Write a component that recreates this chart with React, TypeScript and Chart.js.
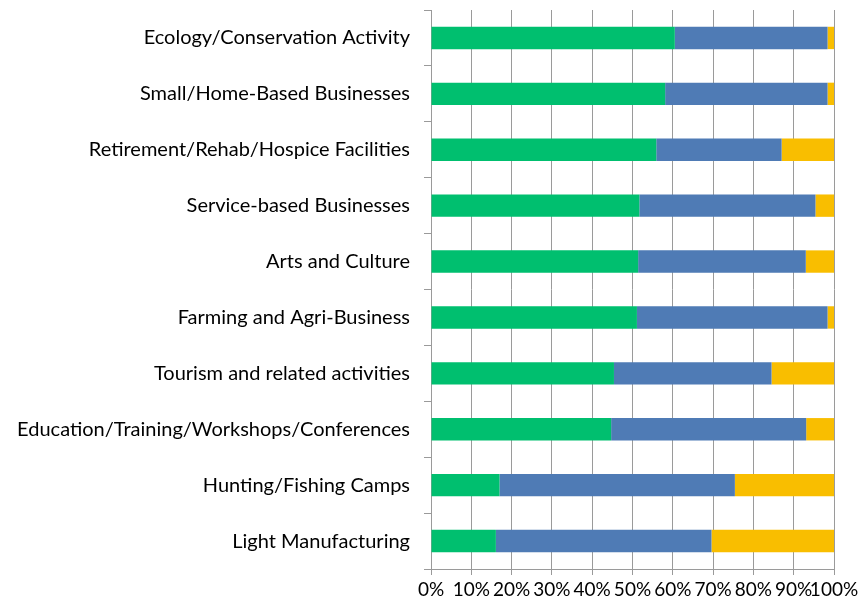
import React, { useEffect, useRef } from "react";
import { Chart, registerables } from "chart.js";

Chart.register(...registerables);

const categories = [
  "Ecology/Conservation Activity",
  "Small/Home-Based Businesses",
  "Retirement/Rehab/Hospice Facilities",
  "Service-based Businesses",
  "Arts and Culture",
  "Farming and Agri-Business",
  "Tourism and related activities",
  "Education/Training/Workshops/Conferences",
  "Hunting/Fishing Camps",
  "Light Manufacturing",
];

const greenValues = [60.5, 58.1, 55.9, 51.7, 51.4, 51.1, 45.4, 44.7, 17.0, 16.1];
const blueValues = [37.9, 40.3, 31.1, 43.7, 41.6, 47.3, 39.1, 48.4, 58.4, 53.5];
const yellowValues = [1.6, 1.6, 13.0, 4.6, 7.0, 1.6, 15.5, 6.9, 24.6, 30.4];

const xStep = 10;

const FONT = "Lato, 'Open Sans', sans-serif";

export default function App() {
  const ref = useRef<HTMLCanvasElement | null>(null);

  useEffect(() => {
    document.body.style.margin = "0";
    const ctx = ref.current!;
    const chart = new Chart(ctx, {
      type: "bar",
      data: {
        labels: categories,
        datasets: [
          { label: "Green", data: greenValues, backgroundColor: "#00BF6F", borderWidth: 0 },
          { label: "Blue", data: blueValues, backgroundColor: "#4F7BB5", borderWidth: 0 },
          { label: "Yellow", data: yellowValues, backgroundColor: "#F9BE00", borderWidth: 0 },
        ],
      },
      options: {
        indexAxis: "y",
        animation: false,
        responsive: false,
        maintainAspectRatio: false,
        layout: { padding: { top: 10, right: 27, left: 0, bottom: 0 } },
        datasets: { bar: { barPercentage: 0.4, categoryPercentage: 1 } },
        plugins: { legend: { display: false }, tooltip: { enabled: false } },
        scales: {
          x: {
            stacked: true,
            min: 0,
            max: 100,
            afterFit: (scale: any) => {
              scale.height = 39;
              scale.paddingLeft = 0;
              scale.paddingRight = 0;
            },
            ticks: {
              stepSize: xStep,
              callback: (v: any) => v + "%",
              color: "#000",
              font: { family: FONT, size: 19 },
              padding: 3,
              maxRotation: 0,
              autoSkip: false,
            },
            grid: {
              display: true,
              drawOnChartArea: true,
              color: "#9a9a9a",
              lineWidth: 1,
              drawTicks: true,
              tickLength: 6,
            },
            border: { display: true, color: "#9a9a9a" },
          },
          y: {
            stacked: true,
            afterFit: (scale: any) => {
              scale.width = 431;
              scale.paddingTop = 0;
              scale.paddingBottom = 0;
            },
            ticks: {
              color: "#000",
              font: { family: FONT, size: 20 },
              padding: 14,
              autoSkip: false,
            },
            grid: {
              offset: true,
              drawOnChartArea: false,
              drawTicks: true,
              tickLength: 7,
              color: "#9a9a9a",
            },
            border: { display: true, color: "#9a9a9a" },
          },
        },
      },
    });
    return () => chart.destroy();
  }, []);

  return <canvas ref={ref} width={861} height={608} style={{ display: "block" }} />;
}
